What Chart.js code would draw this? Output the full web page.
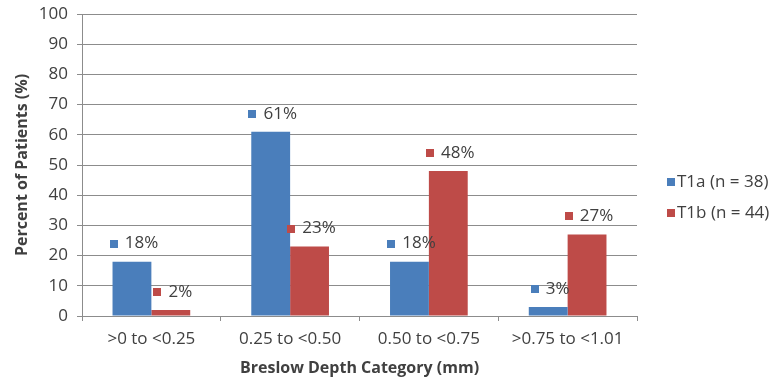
<!DOCTYPE html>
<html>
<head>
<meta charset="utf-8">
<script src="https://cdn.jsdelivr.net/npm/chart.js@4"></script>
<style>
  html, body { margin: 0; padding: 0; background: #ffffff; }
  #wrap { width: 778px; height: 386px; position: relative; }
</style>
</head>
<body>
<div id="wrap"><canvas id="c"></canvas></div>
<script>
// Breslow depth categories and the share of patients in each
const categories = ['>0 to <0.25', '0.25 to <0.50', '0.50 to <0.75', '>0.75 to <1.01'];
const t1aValues = [18, 61, 18, 3];
const t1bValues = [2, 23, 48, 27];
const seriesNames = ['T1a (n = 38)', 'T1b (n = 44)'];
const seriesColors = ['#4a7ebb', '#be4b48'];

const FAMILY = '"Open Sans", "DejaVu Sans", sans-serif';
const TEXT = '#404040';
const GRID = '#8c8c8c';

// "■ 18%" style labels above each bar
const valueLabels = {
  id: 'valueLabels',
  afterDatasetsDraw(chart) {
    const ctx = chart.ctx;
    ctx.save();
    ctx.font = '17px ' + FAMILY;
    ctx.textBaseline = 'middle';
    ctx.textAlign = 'left';
    chart.data.datasets.forEach((ds, i) => {
      chart.getDatasetMeta(i).data.forEach((bar, j) => {
        const txt = ds.data[j] + '%';
        const box = 8, gap = 7;
        const total = box + gap + ctx.measureText(txt).width;
        const x0 = bar.x - total / 2 + 2;
        const y = bar.y - 18;
        ctx.fillStyle = ds.backgroundColor;
        ctx.fillRect(Math.round(x0), Math.round(y - box / 2), box, box);
        ctx.fillStyle = TEXT;
        ctx.fillText(txt, x0 + box + gap, y);
      });
    });
    ctx.restore();
  }
};

// Legend at the right of the plot
const sideLegend = {
  id: 'sideLegend',
  afterDraw(chart) {
    const ctx = chart.ctx;
    const area = chart.chartArea;
    ctx.save();
    ctx.font = '17px ' + FAMILY;
    ctx.textBaseline = 'middle';
    ctx.textAlign = 'left';
    const x = area.right + 30;
    const ys = [182, 213];
    chart.data.datasets.forEach((ds, i) => {
      ctx.fillStyle = ds.backgroundColor;
      ctx.fillRect(x, ys[i] - 4, 8, 8);
      ctx.fillStyle = TEXT;
      ctx.fillText(ds.label, x + 10, ys[i]);
    });
    ctx.restore();
  }
};

new Chart(document.getElementById('c'), {
  type: 'bar',
  data: {
    labels: categories,
    datasets: [
      { label: seriesNames[0], data: t1aValues, backgroundColor: seriesColors[0] },
      { label: seriesNames[1], data: t1bValues, backgroundColor: seriesColors[1] }
    ]
  },
  options: {
    responsive: true,
    maintainAspectRatio: false,
    animation: false,
    devicePixelRatio: 1,
    layout: { padding: { top: 14, right: 141, bottom: 0, left: 0 } },
    datasets: { bar: { categoryPercentage: 0.56, barPercentage: 1.0 } },
    plugins: { legend: { display: false }, tooltip: { enabled: false } },
    scales: {
      x: {
        grid: { display: true, drawOnChartArea: false, offset: true, tickLength: 5, color: GRID },
        border: { color: GRID },
        ticks: { color: TEXT, font: { family: FAMILY, size: 17 }, padding: 8, maxRotation: 0 },
        title: {
          display: true, text: 'Breslow Depth Category (mm)', color: TEXT,
          font: { family: FAMILY, size: 16, weight: 'bold' }, padding: { top: 0, bottom: 8 }
        },
        afterFit(s) { s.height = 70; s.paddingLeft = 0; s.paddingRight = 0; }
      },
      y: {
        min: 0, max: 100,
        ticks: { stepSize: 10, color: TEXT, font: { family: FAMILY, size: 17 }, padding: 9 },
        grid: { color: GRID, tickLength: 5 },
        border: { color: GRID },
        title: {
          display: true, text: 'Percent of Patients (%)', color: TEXT,
          font: { family: FAMILY, size: 16, weight: 'bold' }, padding: { top: 13, bottom: 0 }
        },
        afterFit(s) { s.width = 82; s.paddingTop = 0; s.paddingBottom = 0; }
      }
    }
  },
  plugins: [valueLabels, sideLegend]
});
</script>
</body>
</html>
